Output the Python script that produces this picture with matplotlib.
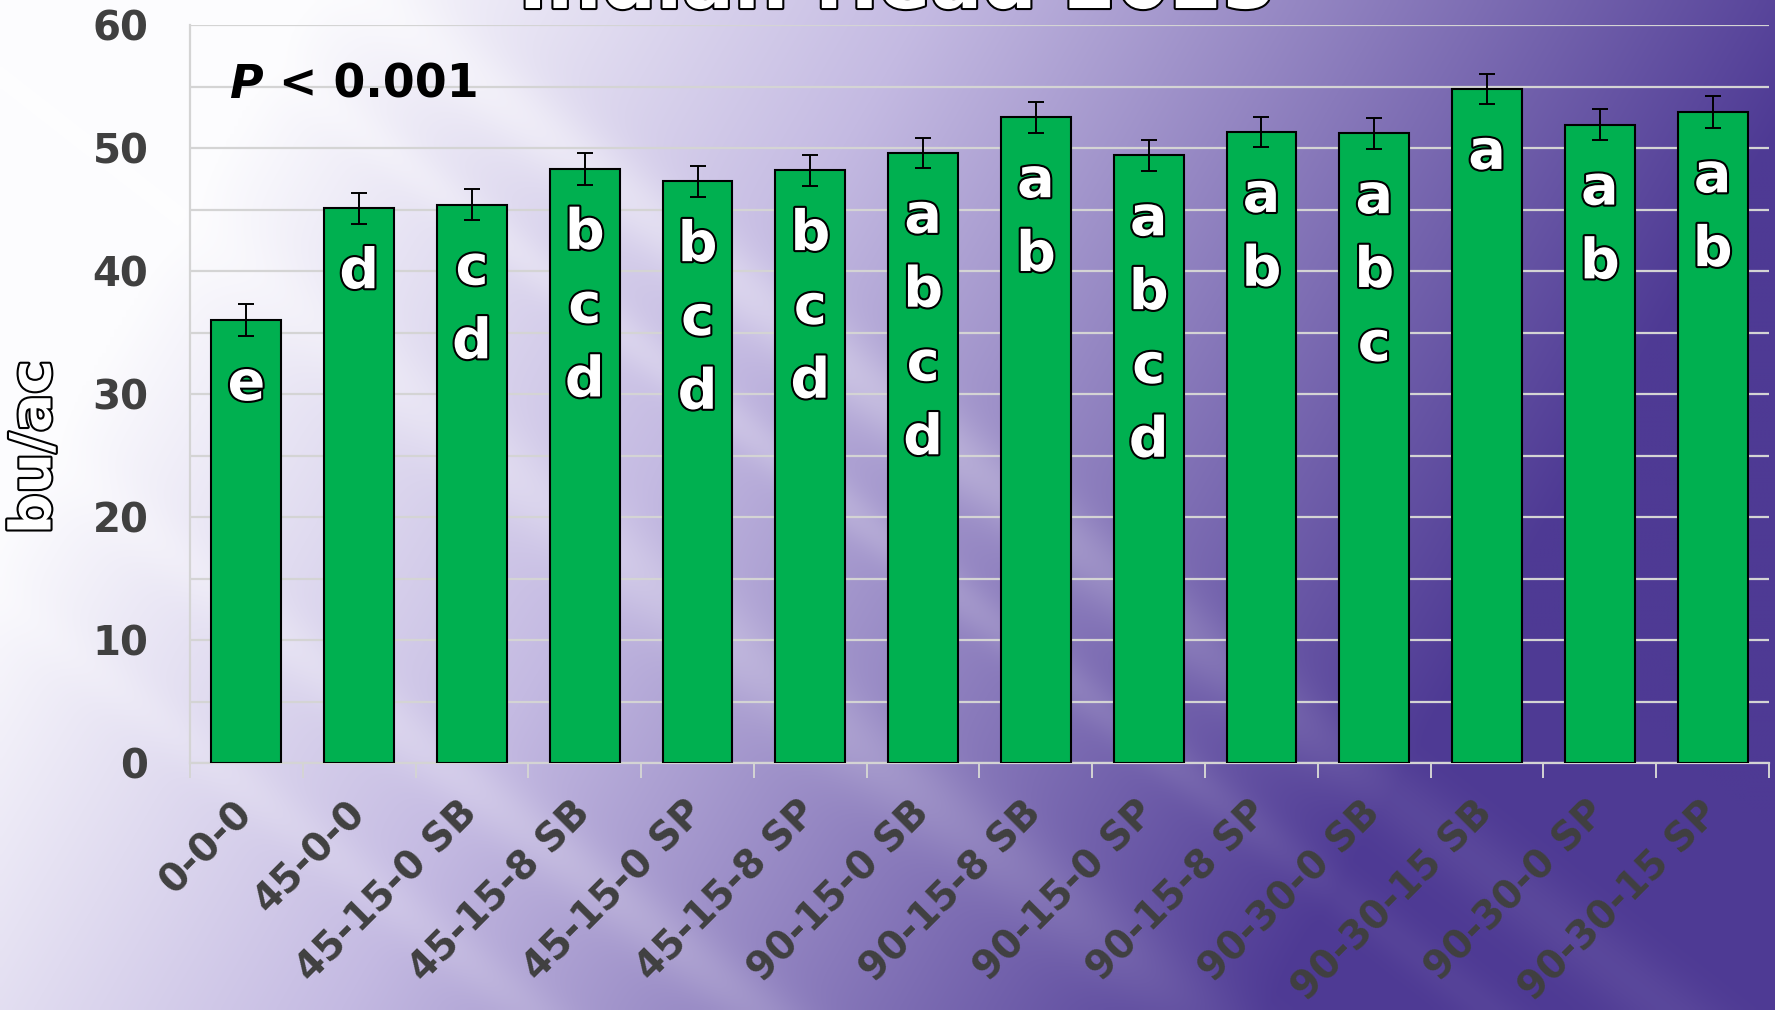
import matplotlib
matplotlib.use("Agg")
import matplotlib.pyplot as plt
import matplotlib.patheffects as pe
import numpy as np

# data
treatments = ["0-0-0", "45-0-0", "45-15-0 SB", "45-15-8 SB", "45-15-0 SP",
              "45-15-8 SP", "90-15-0 SB", "90-15-8 SB", "90-15-0 SP",
              "90-15-8 SP", "90-30-0 SB", "90-30-15 SB", "90-30-0 SP",
              "90-30-15 SP"]
yields = [36.0, 45.1, 45.4, 48.3, 47.3, 48.2, 49.6, 52.5, 49.4, 51.3,
          51.2, 54.8, 51.9, 52.9]
errors = [1.3, 1.25, 1.25, 1.3, 1.25, 1.25, 1.25, 1.25, 1.25, 1.25,
          1.25, 1.25, 1.25, 1.3]
letters = ["e", "d", "cd", "bcd", "bcd", "bcd", "abcd", "ab", "abcd", "ab",
           "abc", "a", "ab", "ab"]
title = "Indian Head 2023"
p_text = " < 0.001"

W, H = 1775, 1010
fig = plt.figure(figsize=(W / 100, H / 100), dpi=100)

# background: white top-left fading to purple, with light diagonal streaks
X, Y = np.meshgrid(np.arange(0, W, 4), np.arange(0, H, 4))
u = X / W
v = Y / H
d = np.clip(u * 1.15 + v * 0.38 - 0.2, 0, 1)
white = np.array([252, 252, 254]) / 255
lav = np.array([196, 186, 226]) / 255
purple = np.array([78, 58, 148]) / 255
t1 = np.clip(d / 0.4, 0, 1)[..., None]
t2 = np.clip((d - 0.4) / 0.6, 0, 1)[..., None]
bg = white * (1 - t1) + lav * t1
bg = bg * (1 - t2) + purple * t2
a = np.deg2rad(38)
p = -np.sin(a) * X + np.cos(a) * Y
streak = np.zeros_like(p, dtype=float)
for c, w, amp in [(-230, 35, 0.45), (-120, 22, 0.3), (60, 40, 0.35), (330, 30, 0.3), (470, 25, 0.2)]:
    streak += amp * np.exp(-((p - c) / w) ** 2)
streak *= np.clip(1.15 - d, 0, 1)
bg = bg + (1 - bg) * np.clip(streak, 0, 1)[..., None]
bgax = fig.add_axes([0, 0, 1, 1], zorder=-1)
bgax.imshow(bg, aspect="auto", extent=[0, 1, 0, 1], interpolation="bilinear")
bgax.axis("off")

ax = fig.add_axes([190 / W, 1 - 763 / H, (1769 - 190) / W, (763 - 25) / H])
ax.patch.set_alpha(0)

x = np.arange(len(treatments))
ax.bar(x, yields, width=0.62, color="#00b050", edgecolor="black",
       linewidth=1.5, zorder=3)
ax.errorbar(x, yields, yerr=errors, fmt="none", ecolor="black",
            elinewidth=1.4, capsize=6, capthick=1.4, zorder=4)

outline = [pe.withStroke(linewidth=3, foreground="black")]
for xi, yv, lab in zip(x, yields, letters):
    for k, ch in enumerate(lab):
        ax.text(xi, yv - 6.5 - 6.0 * k, ch, ha="center", va="baseline",
                fontsize=40, fontweight="bold", color="white",
                path_effects=outline, zorder=5)

ptxt = ax.text(-0.15, 55.1, "P", style="italic", fontsize=33, fontweight="bold",
               ha="left", va="center", color="black")
ax.annotate(p_text, xy=(1, 0.5), xycoords=ptxt, fontsize=33,
            fontweight="bold", ha="left", va="center", color="black")

ax.set_xlim(-0.5, len(treatments) - 0.5)
ax.set_ylim(0, 60)
ax.set_yticks(range(0, 61, 10))
ax.set_yticks(range(5, 60, 10), minor=True)
ax.yaxis.grid(True, which="both", color="#d4d4d4", linewidth=1.6, zorder=0)
ax.tick_params(axis="y", which="both", length=0, pad=30,
               labelsize=29, labelcolor="#404040")
for lbl in ax.get_yticklabels():
    lbl.set_fontweight("bold")

ax.set_xticks(x)
ax.set_xticks(np.arange(-0.5, len(treatments), 1), minor=True)
ax.set_xticklabels(treatments, rotation=45, ha="right", va="center",
                   rotation_mode="anchor", fontsize=28, fontweight="bold",
                   color="#404040")
ax.tick_params(axis="x", which="major", length=0, pad=32)
ax.tick_params(axis="x", which="minor", length=11, width=1.4, color="#d4d4d4")

for s in ["top", "right"]:
    ax.spines[s].set_visible(False)
ax.spines["left"].set_color("#d4d4d4")
ax.spines["left"].set_linewidth(1.6)
ax.spines["bottom"].set_color("#d4d4d4")
ax.spines["bottom"].set_linewidth(1.6)

fig.text(35 / W, 1 - 447 / H, "bu/ac", rotation=90, ha="center", va="center",
         fontsize=41, fontweight="bold", color="white", path_effects=outline)
fig.text(897 / W, 1 - 8 / H, title, ha="center", va="baseline",
         fontsize=55, fontweight="bold", color="white", path_effects=outline)

fig.savefig("out.png", dpi=100)
